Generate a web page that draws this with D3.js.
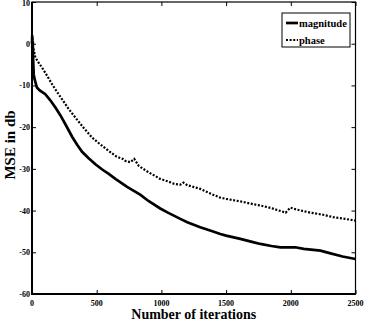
<!DOCTYPE html>
<html>
<head>
<meta charset="utf-8">
<script src="https://cdn.jsdelivr.net/npm/d3@7"></script>
<style>
  body { margin: 0; background: #fff; }
  text { font-family: "Liberation Serif", "Times New Roman", serif; font-weight: bold; fill: #000; }
</style>
</head>
<body>
<div id="chart"></div>
<script>
// iterations and MSE (dB)
var magIter = [0, 2, 4, 6, 8, 13, 20, 38, 60, 103, 140, 181, 220, 258, 310, 350, 387, 440, 490, 540, 593, 650, 735, 800, 836, 900, 991, 1050, 1146, 1200, 1300, 1400, 1455, 1500, 1610, 1700, 1765, 1850, 1920, 2000, 2035, 2100, 2229, 2300, 2400, 2500];
var magVal  = [0, 2, -1, 0.5, -3, -7.3, -8.5, -10.5, -11.2, -12.1, -13.5, -15.3, -17.2, -19.3, -22.3, -24.3, -25.9, -27.5, -28.9, -30.1, -31.2, -32.5, -34.3, -35.5, -36.2, -37.7, -39.5, -40.5, -42, -42.8, -44, -45, -45.6, -46, -46.8, -47.5, -48, -48.5, -48.8, -48.8, -48.8, -49.2, -49.6, -50.2, -51, -51.6];

var phIter = [0, 2, 4, 8, 14, 26, 50, 77, 115, 155, 190, 232, 280, 335, 400, 464, 530, 593, 650, 700, 722, 760, 790, 825, 900, 991, 1050, 1100, 1146, 1170, 1200, 1300, 1400, 1455, 1500, 1610, 1700, 1765, 1850, 1940, 1960, 1997, 2050, 2152, 2250, 2330, 2420, 2500];
var phVal  = [-1, 1.5, -0.5, -1, -1.5, -3.3, -4.5, -5.7, -7.6, -9.7, -11.4, -13.3, -15.5, -17.7, -20.2, -22.5, -24.2, -25.7, -27, -27.6, -28.1, -28.4, -27.6, -29.3, -30.8, -32.4, -33, -33.6, -33.8, -33.3, -33.9, -34.8, -36.2, -36.9, -37.2, -37.8, -38.4, -38.8, -39.4, -40.3, -40.5, -39.3, -39.8, -40.5, -41, -41.6, -42, -42.4];

var xTicks = [0, 500, 1000, 1500, 2000, 2500];
var yTicks = [10, 0, -10, -20, -30, -40, -50, -60];
var legendLabels = ["magnitude", "phase"];

var W = 366, H = 324;
var padL = 32, padR = 355.5, padT = 2, padB = 294;

var svg = d3.select("#chart").append("svg")
    .attr("width", W)
    .attr("height", H);

var x = d3.scaleLinear().domain([0, 2500]).range([padL, padR]);
var y = d3.scaleLinear().domain([-60, 10]).range([padB, padT]);

// inward ticks on all four sides
svg.append("g")
    .attr("transform", "translate(0," + padB + ")")
    .call(d3.axisTop(x).tickValues(xTicks).tickSize(4).tickFormat(""))
    .call(g => g.select(".domain").remove());
svg.append("g")
    .attr("transform", "translate(0," + padT + ")")
    .call(d3.axisBottom(x).tickValues(xTicks).tickSize(4).tickFormat(""))
    .call(g => g.select(".domain").remove());
svg.append("g")
    .attr("transform", "translate(" + padL + ",0)")
    .call(d3.axisRight(y).tickValues(yTicks).tickSize(4).tickFormat(""))
    .call(g => g.select(".domain").remove());
svg.append("g")
    .attr("transform", "translate(" + padR + ",0)")
    .call(d3.axisLeft(y).tickValues(yTicks).tickSize(4).tickFormat(""))
    .call(g => g.select(".domain").remove());

// tick labels
svg.append("g").selectAll("text")
    .data(xTicks)
    .join("text")
    .attr("x", d => x(d))
    .attr("y", padB + 12)
    .attr("text-anchor", "middle")
    .style("font-size", "8px")
    .text(d => d);

svg.append("g").selectAll("text")
    .data(yTicks)
    .join("text")
    .attr("x", padL - 2)
    .attr("y", d => Math.max(y(d) + 3, 6))
    .attr("text-anchor", "end")
    .style("font-size", "8px")
    .text(d => d);

// frame
svg.append("rect")
    .attr("x", padL).attr("y", padT)
    .attr("width", padR - padL).attr("height", padB - padT)
    .attr("fill", "none").attr("stroke", "#000").attr("stroke-width", 1.2);
svg.append("path")
    .attr("d", "M" + padL + "," + padT + "V" + padB + "H" + padR)
    .attr("fill", "none").attr("stroke", "#000").attr("stroke-width", 2);

var line = d3.line()
    .x(d => x(d[0]))
    .y(d => y(d[1]));

svg.append("path")
    .datum(d3.zip(magIter, magVal))
    .attr("fill", "none")
    .attr("stroke", "#000")
    .attr("stroke-width", 2.7)
    .attr("d", line);

svg.append("path")
    .datum(d3.zip(phIter, phVal))
    .attr("fill", "none")
    .attr("stroke", "#000")
    .attr("stroke-width", 2.2)
    .attr("stroke-dasharray", "2,1.6")
    .attr("d", line);

// legend
var lg = svg.append("g");
lg.append("rect")
    .attr("x", 282).attr("y", 13)
    .attr("width", 68).attr("height", 34)
    .attr("fill", "#fff").attr("stroke", "#000").attr("stroke-width", 1);
lg.append("line")
    .attr("x1", 286).attr("x2", 298).attr("y1", 23).attr("y2", 23)
    .attr("stroke", "#000").attr("stroke-width", 2.7);
lg.append("line")
    .attr("x1", 286).attr("x2", 298).attr("y1", 40).attr("y2", 40)
    .attr("stroke", "#000").attr("stroke-width", 2)
    .attr("stroke-dasharray", "2,1.6");
lg.selectAll("text.lab")
    .data(legendLabels)
    .join("text")
    .attr("class", "lab")
    .attr("x", 299)
    .attr("y", (d, i) => 27 + i * 17)
    .style("font-size", "10.5px")
    .text(d => d);

// axis titles
svg.append("text")
    .attr("x", (padL + padR) / 2)
    .attr("y", 319)
    .attr("text-anchor", "middle")
    .style("font-size", "14px")
    .text("Number of iterations");

svg.append("text")
    .attr("transform", "translate(15," + 145 + ") rotate(-90)")
    .attr("text-anchor", "middle")
    .style("font-size", "15px")
    .text("MSE in db");
</script>
</body>
</html>
